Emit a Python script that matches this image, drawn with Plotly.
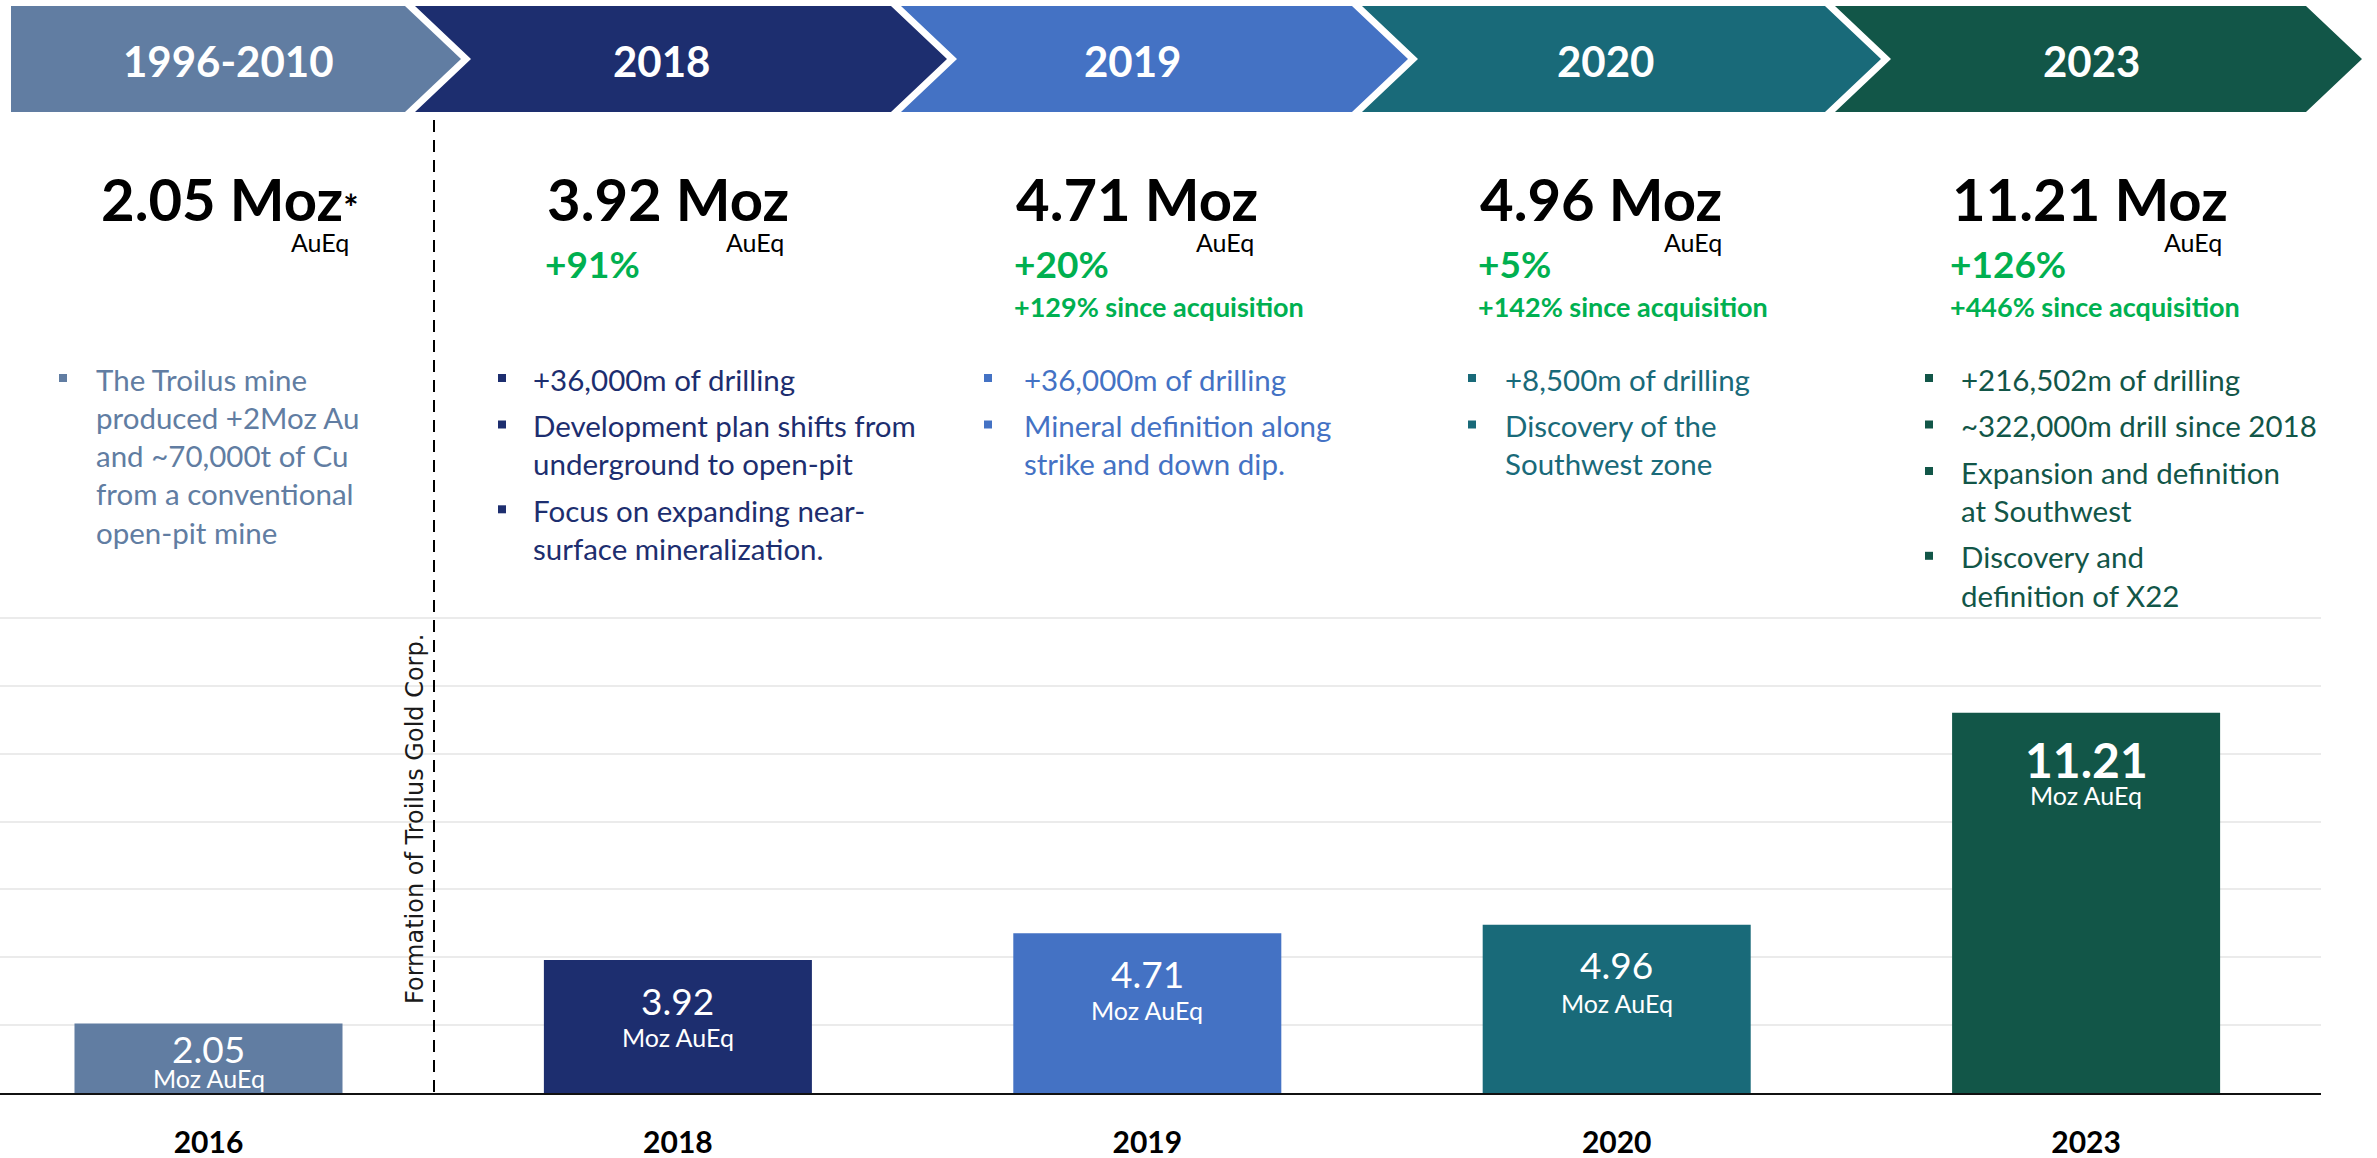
import plotly.graph_objects as go

# ---------------- data ----------------
categories = ["2016", "2018", "2019", "2020", "2023"]
resources_moz = [2.05, 3.92, 4.71, 4.96, 11.21]
periods = ["1996-2010", "2018", "2019", "2020", "2023"]
growth = [None, "+91%", "+20%", "+5%", "+126%"]
since_acquisition = [None, None, "+129% since acquisition",
                     "+142% since acquisition", "+446% since acquisition"]
bullets = [
    [["The Troilus mine", "produced +2Moz Au", "and ~70,000t of Cu",
      "from a conventional", "open-pit mine"]],
    [["+36,000m of drilling"],
     ["Development plan shifts from", "underground to open-pit"],
     ["Focus on expanding near-", "surface mineralization."]],
    [["+36,000m of drilling"],
     ["Mineral definition along", "strike and down dip."]],
    [["+8,500m of drilling"],
     ["Discovery of the", "Southwest zone"]],
    [["+216,502m of drilling"],
     ["~322,000m drill since 2018"],
     ["Expansion and definition", "at Southwest"],
     ["Discovery and", "definition of X22"]],
]
unit_label = "Moz AuEq"
sub_unit = "AuEq"
divider_label = "Formation of Troilus Gold Corp."

# ---------------- styles / layout ----------------
W, H = 2377, 1158
FONT = "Lato"
colors = ["#617DA2", "#1D2E6F", "#4472C4", "#196A79", "#125648"]
GREEN = "#00B050"

def px(x):
    return x / W

def py(y):
    return 1 - y / H

# chevron geometry (pixels)
chev_left = [11, 415, 901, 1362, 1835]
chev_right = [405, 891, 1352, 1825, 2306]
chev_top, chev_bot, chev_depth = 6, 112, 56
chev_text_x = [228, 661, 1132, 1605, 2091]

big_x = [99, 545, 1014, 1478, 1950]
aueq_right = [351, 786, 1256, 1724, 2224]
bullet_sq_x = [63, 502, 988, 1472, 1929]
bullet_txt_x = [94, 531, 1022, 1503, 1959]

# bar label offsets below bar top (pixels): value, unit
val_off = [25, 40, 40, 40, 47]
unit_off = [55, 77, 77, 78, 82]
val_size = [37, 37, 37, 37, 48]
val_bold = [False, False, False, False, True]

plot_top, plot_bot, plot_right = 617, 1093, 2321

fig = go.Figure()
fig.add_trace(go.Bar(
    x=list(range(len(categories))), y=resources_moz,
    marker=dict(color=colors, line=dict(width=0)),
    width=0.571, hoverinfo="skip", showlegend=False,
))

shapes = []
annotations = []

# chevrons
for i in range(5):
    L, R = chev_left[i], chev_right[i]
    mid = (chev_top + chev_bot) / 2
    pts = [(L, chev_top), (R, chev_top), (R + chev_depth, mid), (R, chev_bot), (L, chev_bot)]
    if i > 0:
        pts.append((L + chev_depth, mid))
    path = "M " + " L ".join(f"{px(a):.5f},{py(b):.5f}" for a, b in pts) + " Z"
    shapes.append(dict(type="path", xref="paper", yref="paper", path=path,
                       fillcolor=colors[i], line=dict(width=0), layer="above"))
    annotations.append(dict(xref="paper", yref="paper", x=px(chev_text_x[i]), y=py(61),
                            text=periods[i], showarrow=False, xanchor="center", yanchor="middle",
                            font=dict(family=FONT, size=42, color="white", weight="bold")))

# headline numbers
for i, v in enumerate(resources_moz):
    txt = f"{v:.2f} Moz"
    if i == 0:
        txt += "<span style='font-size:36px'>*</span>"
    annotations.append(dict(xref="paper", yref="paper", x=px(big_x[i]), y=py(199),
                            text=txt, showarrow=False, xanchor="left", yanchor="middle",
                            font=dict(family=FONT, size=58, color="black", weight="bold")))
    annotations.append(dict(xref="paper", yref="paper", x=px(aueq_right[i]), y=py(242),
                            text=sub_unit, showarrow=False, xanchor="right", yanchor="middle",
                            font=dict(family=FONT, size=25, color="black")))
    if growth[i]:
        annotations.append(dict(xref="paper", yref="paper", x=px(big_x[i] - 2), y=py(263),
                                text=growth[i], showarrow=False, xanchor="left", yanchor="middle",
                                font=dict(family=FONT, size=37, color=GREEN, weight="bold")))
    if since_acquisition[i]:
        annotations.append(dict(xref="paper", yref="paper", x=px(big_x[i] - 2), y=py(306),
                                text=since_acquisition[i], showarrow=False, xanchor="left",
                                yanchor="middle",
                                font=dict(family=FONT, size=27, color=GREEN, weight="bold")))

# bullets
for i, col in enumerate(bullets):
    y = 379
    for b in col:
        shapes.append(dict(type="rect", xref="paper", yref="paper",
                           x0=px(bullet_sq_x[i] - 4), x1=px(bullet_sq_x[i] + 4),
                           y0=py(y - 5), y1=py(y + 3),
                           fillcolor=colors[i], line=dict(width=0)))
        for line in b:
            annotations.append(dict(xref="paper", yref="paper", x=px(bullet_txt_x[i]), y=py(y),
                                    text=line, showarrow=False, xanchor="left", yanchor="middle",
                                    font=dict(family=FONT, size=29.5, color=colors[i])))
            y += 38.3
        y += 8.2

# dashed divider + rotated label
shapes.append(dict(type="line", xref="paper", yref="paper", x0=px(434), x1=px(434),
                   y0=py(120), y1=py(plot_bot), line=dict(color="black", width=2, dash="12px,8px"),
                   layer="above"))
annotations.append(dict(xref="paper", yref="paper", x=px(415), y=py(819), text=divider_label,
                        textangle=-90, showarrow=False, xanchor="center", yanchor="middle",
                        font=dict(family="DejaVu Sans", size=24, color="#1a1a1a")))

# bar labels
for i, v in enumerate(resources_moz):
    annotations.append(dict(xref="x", yref="y", x=i, y=v, yshift=-val_off[i], text=f"{v:.2f}",
                            showarrow=False, xanchor="center", yanchor="middle",
                            font=dict(family=FONT, size=val_size[i], color="white",
                                      weight="bold" if val_bold[i] else "normal")))
    annotations.append(dict(xref="x", yref="y", x=i, y=v, yshift=-unit_off[i], text=unit_label,
                            showarrow=False, xanchor="center", yanchor="middle",
                            font=dict(family=FONT, size=25, color="white")))

x_lo = -208.5 / 469.4
x_hi = x_lo + plot_right / 469.4

fig.update_layout(
    width=W, height=H,
    margin=dict(l=0, r=0, t=0, b=0),
    paper_bgcolor="white", plot_bgcolor="white",
    shapes=shapes, annotations=annotations,
    xaxis=dict(domain=[0, plot_right / W], range=[x_lo, x_hi],
               tickvals=list(range(len(categories))), ticktext=categories,
               tickfont=dict(family=FONT, size=30, color="black", weight="bold"),
               ticks="", showgrid=False, zeroline=False,
               showline=True, linecolor="#111111", linewidth=2,
               ticklabelstandoff=22, automargin=False, fixedrange=True),
    yaxis=dict(domain=[(H - plot_bot) / H, (H - plot_top) / H], range=[0, 14.03],
               dtick=2, showticklabels=False, showgrid=True, gridcolor="#EBEBEB", gridwidth=2,
               zeroline=False, showline=False, automargin=False, fixedrange=True),
    bargap=0.43, showlegend=False,
)

fig.write_html("out.html", config={"displayModeBar": False},
               post_script="document.body.style.margin='0px';document.body.style.overflow='hidden';")
